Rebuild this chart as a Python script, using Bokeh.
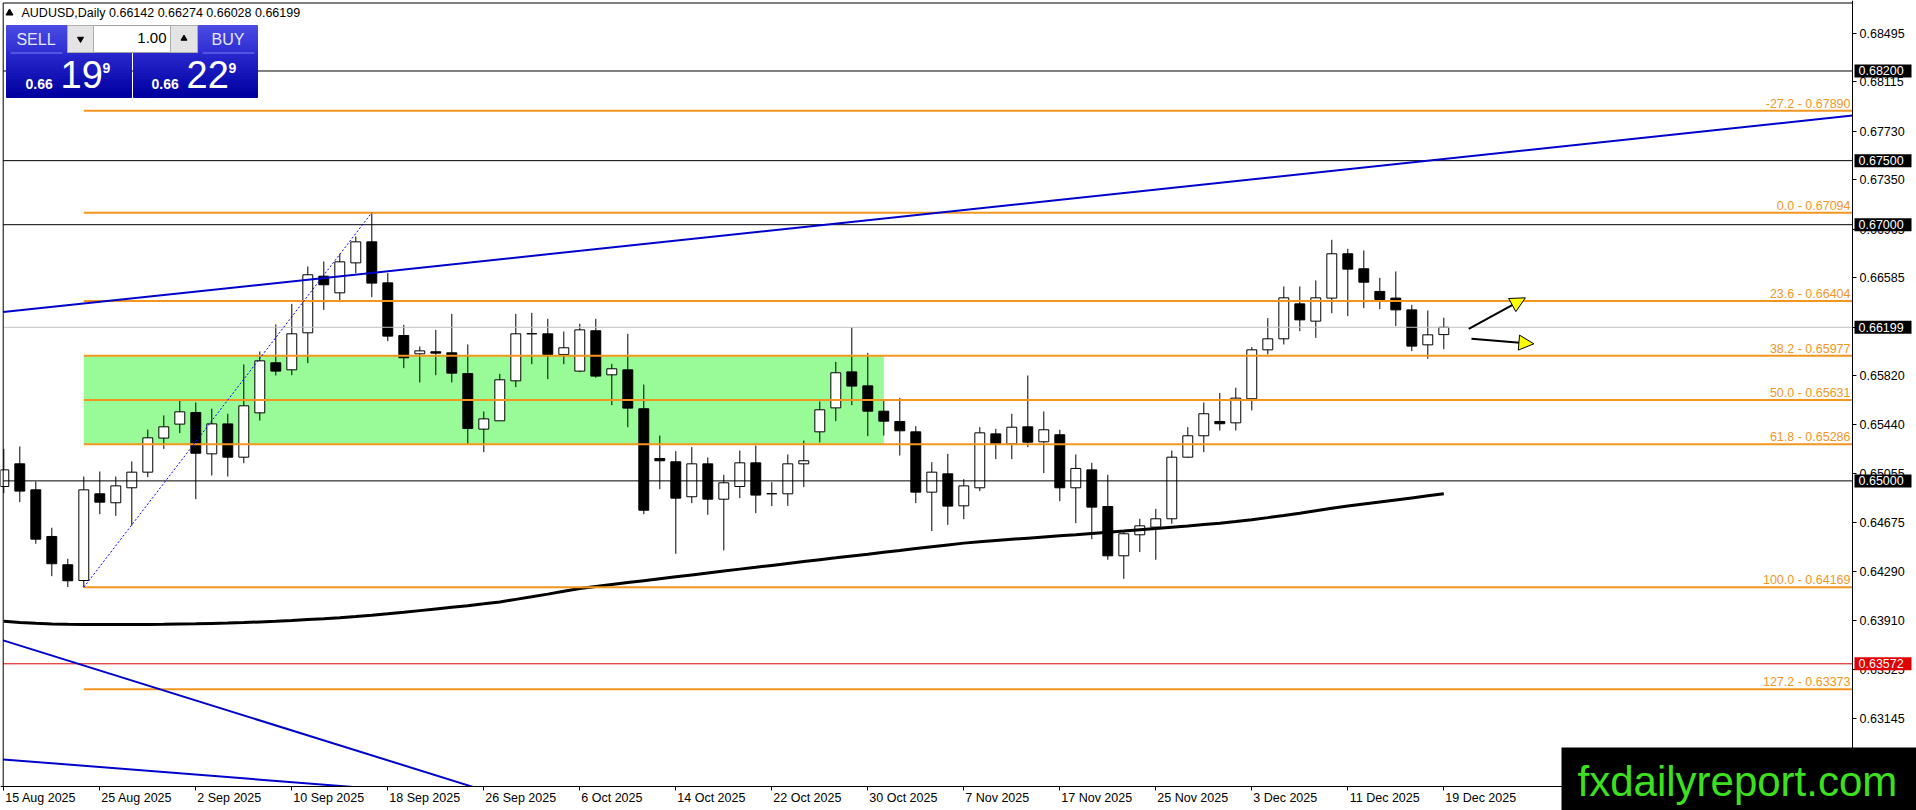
import pandas as pd
from bokeh.plotting import figure
from bokeh.models import (Range1d, FixedTicker, PrintfTickFormatter, Label, Arrow,
                          NormalHead, ColumnDataSource, LinearAxis)
from bokeh.core.properties import value
from bokeh.embed import file_html
from bokeh.resources import INLINE

# ---------------- data ----------------
title_text = "AUDUSD,Daily  0.66142 0.66274 0.66028 0.66199"
dates = pd.bdate_range("2025-08-15", "2025-12-19")

opens = [0.64956, 0.65133, 0.64930, 0.64566, 0.64345, 0.64222, 0.64899, 0.64829, 0.64946, 0.65068,
         0.65334, 0.65443, 0.65534, 0.65211, 0.65445, 0.65185, 0.65531, 0.65922, 0.65867, 0.66156,
         0.66598, 0.66468, 0.66702, 0.66866, 0.66546, 0.66135, 0.65992, 0.66008, 0.66000, 0.65838,
         0.65404, 0.65469, 0.65781, 0.66149, 0.66148, 0.65987, 0.65857, 0.66172, 0.65828, 0.65867,
         0.65563, 0.65175, 0.65149, 0.64876, 0.65133, 0.64857, 0.64956, 0.65141, 0.64900, 0.64899,
         0.65133, 0.65383, 0.65570, 0.65851, 0.65742, 0.65544, 0.65464, 0.65383, 0.64912, 0.65055,
         0.64805, 0.64946, 0.65367, 0.65289, 0.65422, 0.65305, 0.65360, 0.64946, 0.65086, 0.64800,
         0.64415, 0.64579, 0.64639, 0.64704, 0.65185, 0.65352, 0.65464, 0.65453, 0.65641, 0.66023,
         0.66109, 0.66382, 0.66247, 0.66427, 0.66773, 0.66656, 0.66479, 0.66427, 0.66335, 0.66062,
         0.66142]
highs = [0.65250, 0.65269, 0.64995, 0.64634, 0.64392, 0.65034, 0.65073, 0.65034, 0.65152, 0.65401,
         0.65511, 0.65627, 0.65612, 0.65563, 0.65524, 0.65909, 0.66010, 0.66221, 0.66382, 0.66674,
         0.66713, 0.66773, 0.66908, 0.67094, 0.66622, 0.66218, 0.66049, 0.66179, 0.66304, 0.66065,
         0.65542, 0.65836, 0.66304, 0.66312, 0.66265, 0.66166, 0.66226, 0.66265, 0.65914, 0.66148,
         0.65752, 0.65354, 0.65232, 0.65263, 0.65183, 0.65047, 0.65237, 0.65276, 0.64990, 0.65206,
         0.65315, 0.65620, 0.65929, 0.66198, 0.65999, 0.65633, 0.65648, 0.65427, 0.65146, 0.65211,
         0.65013, 0.65419, 0.65406, 0.65524, 0.65823, 0.65542, 0.65399, 0.65206, 0.65141, 0.65047,
         0.64600, 0.64704, 0.64782, 0.65237, 0.65419, 0.65612, 0.65687, 0.65727, 0.66044, 0.66270,
         0.66518, 0.66518, 0.66565, 0.66882, 0.66812, 0.66799, 0.66585, 0.66635, 0.66374, 0.66330,
         0.66274]
lows = [0.64904, 0.64834, 0.64509, 0.64256, 0.64171, 0.64169, 0.64740, 0.64727, 0.64652, 0.65029,
        0.65250, 0.65373, 0.64857, 0.65042, 0.65034, 0.65138, 0.65471, 0.65823, 0.65825, 0.65919,
        0.66335, 0.66395, 0.66622, 0.66434, 0.66091, 0.65880, 0.65768, 0.65825, 0.65768, 0.65289,
        0.65224, 0.65469, 0.65732, 0.65911, 0.65794, 0.65911, 0.65849, 0.65805, 0.65591, 0.65419,
        0.64740, 0.64935, 0.64431, 0.64826, 0.64735, 0.64457, 0.64865, 0.64748, 0.64803, 0.64805,
        0.64951, 0.65300, 0.65466, 0.65591, 0.65349, 0.65354, 0.65198, 0.64826, 0.64608, 0.64657,
        0.64701, 0.64920, 0.65170, 0.65170, 0.65263, 0.65061, 0.64842, 0.64670, 0.64545, 0.64384,
        0.64235, 0.64444, 0.64384, 0.64665, 0.65180, 0.65224, 0.65393, 0.65393, 0.65550, 0.65987,
        0.66065, 0.66169, 0.66117, 0.66309, 0.66286, 0.66348, 0.66341, 0.66208, 0.66013, 0.65953,
        0.66028]
closes = [0.65086, 0.64920, 0.64545, 0.64353, 0.64220, 0.64930, 0.64834, 0.64961, 0.65068, 0.65336,
          0.65422, 0.65539, 0.65216, 0.65445, 0.65185, 0.65586, 0.65937, 0.65857, 0.66148, 0.66609,
          0.66531, 0.66710, 0.66866, 0.66544, 0.66130, 0.65961, 0.66015, 0.65997, 0.65841, 0.65409,
          0.65484, 0.65789, 0.66148, 0.66148, 0.65987, 0.66039, 0.66179, 0.65818, 0.65875, 0.65568,
          0.64771, 0.65157, 0.64865, 0.65133, 0.64857, 0.64985, 0.65141, 0.64889, 0.64899, 0.65133,
          0.65157, 0.65555, 0.65844, 0.65740, 0.65544, 0.65466, 0.65391, 0.64912, 0.65068, 0.64803,
          0.64961, 0.65375, 0.65289, 0.65419, 0.65302, 0.65399, 0.64946, 0.65097, 0.64795, 0.64415,
          0.64587, 0.64649, 0.64704, 0.65185, 0.65352, 0.65524, 0.65446, 0.65646, 0.66023, 0.66109,
          0.66429, 0.66257, 0.66429, 0.66773, 0.66653, 0.66551, 0.66416, 0.66335, 0.66052, 0.66140,
          0.66199]
ma_line = [0.63905, 0.63895, 0.63888, 0.63883, 0.63880, 0.63879, 0.63878, 0.63878, 0.63878, 0.63879,
           0.63880, 0.63882, 0.63884, 0.63887, 0.63890, 0.63894, 0.63899, 0.63904, 0.63910, 0.63917,
           0.63924, 0.63932, 0.63941, 0.63951, 0.63962, 0.63974, 0.63987, 0.64000, 0.64013, 0.64026,
           0.64040, 0.64055, 0.64075, 0.64095, 0.64116, 0.64138, 0.64160, 0.64176, 0.64191, 0.64206,
           0.64221, 0.64236, 0.64251, 0.64266, 0.64281, 0.64296, 0.64311, 0.64325, 0.64340, 0.64355,
           0.64370, 0.64385, 0.64399, 0.64414, 0.64428, 0.64443, 0.64457, 0.64472, 0.64486, 0.64500,
           0.64514, 0.64524, 0.64534, 0.64544, 0.64553, 0.64562, 0.64571, 0.64580, 0.64590, 0.64599,
           0.64608, 0.64618, 0.64628, 0.64638, 0.64648, 0.64659, 0.64670, 0.64682, 0.64697, 0.64713,
           0.64730, 0.64748, 0.64767, 0.64786, 0.64803, 0.64819, 0.64835, 0.64851, 0.64867, 0.64883,
           0.64899]

fib_names = ["-27.2", "0.0", "23.6", "38.2", "50.0", "61.8", "100.0", "127.2"]
fib_levels = [0.67890, 0.67094, 0.66404, 0.65977, 0.65631, 0.65286, 0.64169, 0.63373]
fib_anchor_bars = [5, 23]
fib_anchor_prices = [0.64169, 0.67094]

zone_bars = [5, 55]
zone_prices = [0.65286, 0.65977]

black_levels = [0.68200, 0.67500, 0.67000, 0.65000]
red_levels = [0.63572]
bid_levels = [0.66199]

trend_bar0_prices = [0.66318, 0.63753, 0.62825]
trend_slopes = [0.0001328, -0.0003895, -0.0000982]

price_ticks = [0.68495, 0.68115, 0.67730, 0.67350, 0.66965, 0.66585, 0.66200, 0.65820,
               0.65440, 0.65055, 0.64675, 0.64290, 0.63910, 0.63525, 0.63145, 0.62760]
date_tick_bars = [0, 6, 12, 18, 24, 30, 36, 42, 48, 54, 60, 66, 72, 78, 84, 90]

arrow_starts = [(91.56, 0.66187), (91.73, 0.66109)]
arrow_ends = [(95.10, 0.66429), (95.63, 0.66070)]

sell_quote = ["0.66", "19", "9"]
buy_quote = ["0.66", "22", "9"]
lot_size = "1.00"
watermark = "fxdailyreport.com"

# ---------------- layout (screen-pixel calibration) ----------------
W, H = 1916, 810


def dx(rx):                     # screen x pixel -> bar index
    return (rx - 3.3) / 16.0


def dy(ry):                     # screen y pixel -> price
    return 0.68495 - (ry - 32.7) * 7.807e-5


PX_PRICE = 7.807e-5
X0, X1 = dx(0), dx(W)
Y1, Y0 = dy(0), dy(H)
LEFT, RIGHT, TOP, BOTTOM = dx(2.7), dx(1852), dy(2.5), dy(786)

FONT = "Liberation Sans"
ORANGE = "#F3961F"
BLUE = "#0000CD"

p = figure(width=W, height=H, x_range=Range1d(X0, X1), y_range=Range1d(Y0, Y1),
           x_axis_location=None, y_axis_location=None, output_backend="svg",
           toolbar_location=None, min_border=0, background_fill_color="white",
           border_fill_color="white", outline_line_color=None)
p.grid.visible = False

# zone rectangle (background)
p.quad(left=[zone_bars[0]], right=[zone_bars[1]], bottom=[zone_prices[0]], top=[zone_prices[1]],
       fill_color="#98FB98", line_color=None)

# candles
bars = list(range(len(dates)))
src = ColumnDataSource(dict(
    x=bars, h=highs, l=lows,
    top=[max(o, c) for o, c in zip(opens, closes)],
    bottom=[min(o, c) for o, c in zip(opens, closes)],
    fill=["white" if c > o else "black" for o, c in zip(opens, closes)],
))
p.segment(x0="x", y0="h", x1="x", y1="l", source=src, line_color="black", line_width=1)
p.vbar(x="x", width=0.62, top="top", bottom="bottom", source=src,
       fill_color="fill", line_color="black", line_width=1)

# moving average
p.line(bars, ma_line, line_color="black", line_width=3)

# horizontal levels
n = len(black_levels)
p.segment(x0=[LEFT] * n, x1=[RIGHT] * n, y0=black_levels, y1=black_levels,
          line_color="black", line_width=1)
p.segment(x0=[LEFT], x1=[RIGHT], y0=bid_levels, y1=bid_levels, line_color="#C0C0C0", line_width=1)
p.segment(x0=[LEFT], x1=[RIGHT], y0=red_levels, y1=red_levels, line_color="#E00000", line_width=1)

# fibonacci
nf = len(fib_levels)
p.segment(x0=[fib_anchor_bars[0]] * nf, x1=[RIGHT] * nf, y0=fib_levels, y1=fib_levels,
          line_color=ORANGE, line_width=2)
p.text(x=[dx(1850)] * nf, y=fib_levels, text=[f"{a} - {b:.5f}" for a, b in zip(fib_names, fib_levels)],
       text_align="right", text_baseline="middle", y_offset=-7,
       text_color=ORANGE, text_font=value(FONT), text_font_size="12.5px")
p.line(fib_anchor_bars, fib_anchor_prices, line_color="#0000FF", line_width=1, line_dash="2 2")

# trend lines (rays across the chart)
p.segment(x0=[LEFT] * 3, x1=[RIGHT] * 3,
          y0=[b + g * LEFT for b, g in zip(trend_bar0_prices, trend_slopes)],
          y1=[b + g * RIGHT for b, g in zip(trend_bar0_prices, trend_slopes)],
          line_color=BLUE, line_width=2)

# white masks outside the chart window + chart border
p.quad(left=[RIGHT, X0 - 5], right=[X1 + 5, RIGHT], top=[Y1 + 1, BOTTOM], bottom=[Y0 - 1, Y0 - 1],
       fill_color="white", line_color=None)
p.quad(left=[LEFT], right=[RIGHT], top=[TOP], bottom=[BOTTOM], fill_color=None,
       line_color="black", line_width=1)


# ---------------- trading panel ----------------
def hexc(c):
    return tuple(int(c[i:i + 2], 16) for i in (1, 3, 5))


def grad(c0, c1, t):
    a, b = hexc(c0), hexc(c1)
    return "#%02x%02x%02x" % tuple(int(round(a[i] + (b[i] - a[i]) * t)) for i in range(3))


def gradient_block(xa, xb, ya, yb, c0, c1, steps):
    L, R, T, B, C = [], [], [], [], []
    for i in range(steps):
        t0 = ya + (yb - ya) * i / steps
        t1 = ya + (yb - ya) * (i + 1) / steps
        L.append(dx(xa)); R.append(dx(xb)); T.append(dy(t0)); B.append(dy(t1))
        C.append(grad(c0, c1, i / max(steps - 1, 1)))
    p.quad(left=L, right=R, top=T, bottom=B, fill_color=C, line_color=C, line_width=1)


gradient_block(6, 131, 25, 52, "#4a4ae2", "#3030d4", 9)
gradient_block(6, 131, 52, 97, "#2828ce", "#0000a0", 15)
gradient_block(198, 257, 25, 52, "#4a4ae2", "#3030d4", 9)
gradient_block(133, 257, 52, 97, "#2828ce", "#0000a0", 15)
p.segment(x0=[dx(10), dx(202)], x1=[dx(62), dx(254)], y0=[dy(52.5)] * 2, y1=[dy(52.5)] * 2,
          line_color="#8080ea", line_width=1)
# spin box
p.quad(left=[dx(67)], right=[dx(197)], top=[dy(25)], bottom=[dy(52)],
       fill_color="white", line_color="#a0a0a0")
p.quad(left=[dx(67), dx(170)], right=[dx(93), dx(197)], top=[dy(25)] * 2, bottom=[dy(52)] * 2,
       fill_color="#e4e4e4", line_color="#adadad")
p.scatter([dx(80)], [dy(38.5)], marker="inverted_triangle", size=6, color="black")
p.scatter([dx(183.5)], [dy(38)], marker="triangle", size=6, color="black")
p.scatter([dx(9)], [dy(12.5)], marker="triangle", size=7, color="black")


def lab(x, y, text, size, color, style="normal", align="left"):
    p.add_layout(Label(x=x, y=y, text=text, text_font=FONT, text_font_size=size,
                       text_color=color, text_font_style=style, text_align=align,
                       text_baseline="middle"))


lab(dx(21), dy(12.5), title_text, "12.5px", "black")
lab(dx(35.5), dy(38.5), "SELL", "16px", "#e2e6ff", align="center")
lab(dx(227.5), dy(38.5), "BUY", "16px", "#e2e6ff", align="center")
lab(dx(166), dy(37.5), lot_size, "15px", "black", align="right")
for xs, q in ((25, sell_quote), (151, buy_quote)):
    lab(dx(xs), dy(83), q[0], "14px", "white", style="bold")
    lab(dx(xs + 35), dy(73.5), q[1], "38px", "white")
    lab(dx(xs + 77), dy(67), q[2], "14px", "white", style="bold")

# arrows
for (xs, ys), (xe, ye) in zip(arrow_starts, arrow_ends):
    p.add_layout(Arrow(end=NormalHead(size=15, fill_color="#FFFF00", line_color="black", line_width=1),
                       x_start=xs, y_start=ys, x_end=xe, y_end=ye,
                       line_color="black", line_width=2))

# ---------------- axes (price scale on the right, dates below) ----------------
yax = LinearAxis(fixed_location=RIGHT, ticker=FixedTicker(ticks=price_ticks),
                 formatter=PrintfTickFormatter(format="%.5f"))
xtick_ax = LinearAxis(fixed_location=BOTTOM, ticker=FixedTicker(ticks=date_tick_bars))
# date labels start just right of their tick (MT4 style): shift by half of the text width
CW = {"A": 667, "u": 556, "g": 556, "S": 667, "e": 556, "p": 556, "O": 778, "c": 500,
      "t": 278, "N": 722, "o": 556, "v": 500, "D": 722, " ": 278}
date_texts = [f"{dates[k].day} {dates[k].strftime('%b %Y')}" for k in date_tick_bars]
label_pos = [k + (sum(CW.get(ch, 556) for ch in s) / 1000 * 12.5 / 2 + 1.5) / 16.0
             for k, s in zip(date_tick_bars, date_texts)]
xlab_ax = LinearAxis(fixed_location=BOTTOM, ticker=FixedTicker(ticks=label_pos),
                     major_label_overrides=dict(zip(label_pos, date_texts)))
for ax in (yax, xtick_ax, xlab_ax):
    ax.axis_line_color = "black"
    ax.major_tick_line_color = "black"
    ax.minor_tick_line_color = None
    ax.major_tick_in = 0
    ax.major_tick_out = 4
    ax.major_label_text_font = FONT
    ax.major_label_text_font_size = "12.5px"
    ax.major_label_text_color = "black"
yax.major_label_standoff = 3
xtick_ax.major_label_text_color = None
xlab_ax.axis_line_color = None
xlab_ax.major_tick_line_color = None
xlab_ax.major_label_standoff = 0
p.add_layout(yax, "right")
p.add_layout(xtick_ax, "below")
p.add_layout(xlab_ax, "below")

# ---------------- price boxes on the scale + watermark (on top) ----------------
boxes = black_levels + bid_levels + red_levels
box_colors = ["black"] * (len(black_levels) + len(bid_levels)) + ["#E00000"] * len(red_levels)
half = 6.5 * PX_PRICE
p.quad(left=[dx(1854)] * len(boxes), right=[dx(1911)] * len(boxes),
       top=[v + half for v in boxes], bottom=[v - half for v in boxes],
       fill_color=box_colors, line_color=None, level="overlay")
p.text(x=[dx(1858)] * len(boxes), y=boxes, text=[f"{v:.5f}" for v in boxes],
       text_baseline="middle", text_align="left", text_color="white",
       text_font=value(FONT), text_font_size="12.5px", level="overlay")

p.quad(left=[dx(1561)], right=[X1 + 5], top=[dy(747)], bottom=[Y0 - 1],
       fill_color="black", line_color=None, level="overlay")
p.text(x=[dx(1577)], y=[dy(781)], text=[watermark], text_baseline="alphabetic",
       text_align="left", text_color="#3DE01F", text_font=value(FONT),
       text_font_size="42px", level="overlay")

open("out.html", "w").write(file_html(p, INLINE))
